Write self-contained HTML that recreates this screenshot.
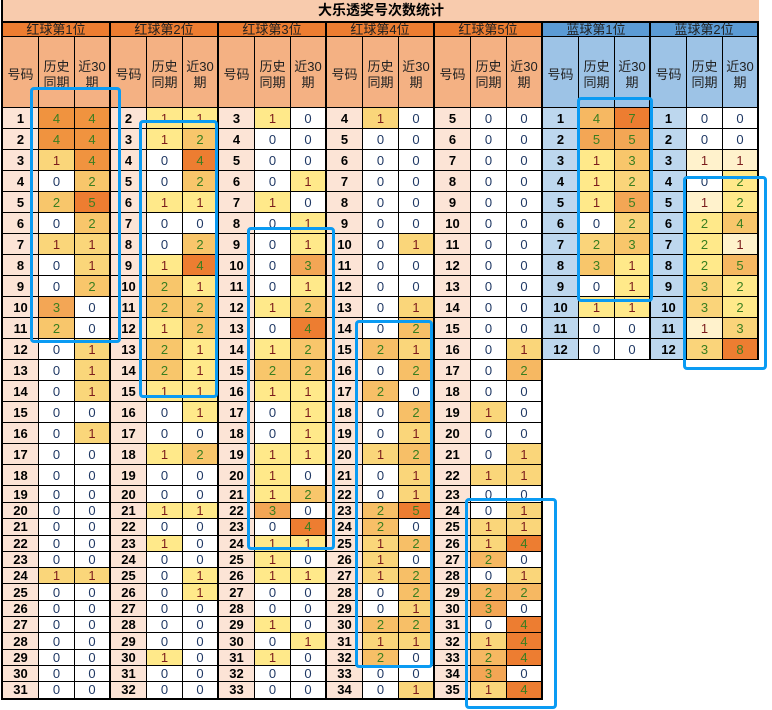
<!DOCTYPE html>
<html><head><meta charset="utf-8"><style>
*{margin:0;padding:0}
body{width:772px;height:710px;background:#fff;position:relative;overflow:hidden;font-family:"Liberation Sans","Noto Sans CJK SC",sans-serif}
#t{position:absolute;left:1px;top:0;border-left:2px solid #000;width:756px}
.ti{height:21px;border-bottom:2px solid #000;background:#F8CBAD;font-weight:bold;font-size:14px;line-height:21px;text-align:center;color:#000;width:756px}
.h1{display:flex;height:14px}
.h1>div{box-sizing:border-box;flex:none;width:108px;border-right:2px solid #000;border-bottom:1px solid #000;background:#ED7D31;font-size:13px;line-height:13px;text-align:center;color:#222}
.h1>.bl{background:#5B9BD5}
.h2{display:flex;height:71px}
.h2>div{box-sizing:border-box;flex:none;width:36px;border-right:1px solid #000;border-bottom:1px solid #000;background:#F4B183;font-size:13px;line-height:16px;text-align:center;display:flex;align-items:center;justify-content:center;padding-top:5px;color:#222}
.h2>:nth-child(3n){border-right-width:2px}
.h2>:nth-child(n+16){background:#9DC3E6}
.R{display:flex;height:21px}
.R.s{height:17px}
.R.u{height:16.3px}
.R.v{height:17.4px}
.R.v>*{border-bottom-width:2px}
.R>*{box-sizing:border-box;width:36px;flex:none;border-right:1px solid #000;border-bottom:1px solid #000;display:flex;align-items:center;justify-content:center;font-size:13px;font-style:normal;font-weight:normal;background:#fff;color:#1F3864}
.R>:nth-child(3n){border-right-width:2px}
.R>b{background:#FCE4D6;color:#000;font-weight:bold}
.R>b:nth-child(16),.R>b:nth-child(19){background:#BDD7EE}
.R>.q{background:#FFE98A;color:#7B1C1C}
.R>.t{background:#FAD67A;color:#7B1C1C}
.R>.p{background:#FFF2CC;color:#7B1C1C}
.R>.A{background:#FFE98A;color:#3A7E1F}
.R>.B{background:#FAD47A;color:#3A7E1F}
.R>.C{background:#F8C66B;color:#3A7E1F}
.R>.H{background:#F7BF67;color:#3A7E1F}
.R>.D{background:#F6B862;color:#3A7E1F}
.R>.E{background:#F3A655;color:#3A7E1F}
.R>.F{background:#F0933F;color:#3A7E1F}
.R>.G{background:#ED7D31;color:#3A7E1F}
.bx{position:absolute;box-sizing:border-box;border:3px solid #0A9BF3;border-radius:4px}
</style></head><body>
<div id="t">
<div class="ti">大乐透奖号次数统计</div>
<div class="h1"><div>红球第1位</div><div>红球第2位</div><div>红球第3位</div><div>红球第4位</div><div>红球第5位</div><div class="bl">蓝球第1位</div><div class="bl">蓝球第2位</div></div>
<div class="h2">
<div>号码</div><div>历史<br>同期</div><div>近30<br>期</div>
<div>号码</div><div>历史<br>同期</div><div>近30<br>期</div>
<div>号码</div><div>历史<br>同期</div><div>近30<br>期</div>
<div>号码</div><div>历史<br>同期</div><div>近30<br>期</div>
<div>号码</div><div>历史<br>同期</div><div>近30<br>期</div>
<div>号码</div><div>历史<br>同期</div><div>近30<br>期</div>
<div>号码</div><div>历史<br>同期</div><div>近30<br>期</div>
</div>
<div class="R"><b>1</b><i class="F">4</i><i class="F">4</i><b>2</b><i class="q">1</i><i class="q">1</i><b>3</b><i class="q">1</i><i>0</i><b>4</b><i class="t">1</i><i>0</i><b>5</b><i>0</i><i>0</i><b>1</b><i class="D">4</i><i class="G">7</i><b>1</b><i>0</i><i>0</i></div>
<div class="R"><b>2</b><i class="F">4</i><i class="F">4</i><b>3</b><i class="q">1</i><i class="C">2</i><b>4</b><i>0</i><i>0</i><b>5</b><i>0</i><i>0</i><b>6</b><i>0</i><i>0</i><b>2</b><i class="E">5</i><i class="E">5</i><b>2</b><i>0</i><i>0</i></div>
<div class="R"><b>3</b><i class="t">1</i><i class="F">4</i><b>4</b><i>0</i><i class="G">4</i><b>5</b><i>0</i><i>0</i><b>6</b><i>0</i><i>0</i><b>7</b><i>0</i><i>0</i><b>3</b><i class="q">1</i><i class="C">3</i><b>3</b><i class="p">1</i><i class="p">1</i></div>
<div class="R"><b>4</b><i>0</i><i class="C">2</i><b>5</b><i>0</i><i class="C">2</i><b>6</b><i>0</i><i class="q">1</i><b>7</b><i>0</i><i>0</i><b>8</b><i>0</i><i>0</i><b>4</b><i class="q">1</i><i class="B">2</i><b>4</b><i>0</i><i class="A">2</i></div>
<div class="R"><b>5</b><i class="C">2</i><i class="G">5</i><b>6</b><i class="q">1</i><i class="q">1</i><b>7</b><i class="q">1</i><i>0</i><b>8</b><i>0</i><i>0</i><b>9</b><i>0</i><i>0</i><b>5</b><i class="q">1</i><i class="E">5</i><b>5</b><i class="p">1</i><i class="A">2</i></div>
<div class="R"><b>6</b><i>0</i><i class="C">2</i><b>7</b><i>0</i><i>0</i><b>8</b><i>0</i><i class="q">1</i><b>9</b><i>0</i><i>0</i><b>10</b><i>0</i><i>0</i><b>6</b><i>0</i><i class="B">2</i><b>6</b><i class="A">2</i><i class="C">4</i></div>
<div class="R"><b>7</b><i class="t">1</i><i class="t">1</i><b>8</b><i>0</i><i class="C">2</i><b>9</b><i>0</i><i class="q">1</i><b>10</b><i>0</i><i class="t">1</i><b>11</b><i>0</i><i>0</i><b>7</b><i class="B">2</i><i class="C">3</i><b>7</b><i class="A">2</i><i class="p">1</i></div>
<div class="R"><b>8</b><i>0</i><i class="t">1</i><b>9</b><i class="q">1</i><i class="G">4</i><b>10</b><i>0</i><i class="E">3</i><b>11</b><i>0</i><i>0</i><b>12</b><i>0</i><i>0</i><b>8</b><i class="C">3</i><i class="q">1</i><b>8</b><i class="A">2</i><i class="D">5</i></div>
<div class="R"><b>9</b><i>0</i><i class="C">2</i><b>10</b><i class="C">2</i><i class="q">1</i><b>11</b><i>0</i><i class="q">1</i><b>12</b><i>0</i><i>0</i><b>13</b><i>0</i><i>0</i><b>9</b><i>0</i><i class="q">1</i><b>9</b><i class="B">3</i><i class="A">2</i></div>
<div class="R"><b>10</b><i class="E">3</i><i>0</i><b>11</b><i class="C">2</i><i class="C">2</i><b>12</b><i class="q">1</i><i class="C">2</i><b>13</b><i>0</i><i class="t">1</i><b>14</b><i>0</i><i>0</i><b>10</b><i class="q">1</i><i class="q">1</i><b>10</b><i class="B">3</i><i class="A">2</i></div>
<div class="R"><b>11</b><i class="C">2</i><i>0</i><b>12</b><i class="q">1</i><i class="C">2</i><b>13</b><i>0</i><i class="G">4</i><b>14</b><i>0</i><i class="H">2</i><b>15</b><i>0</i><i>0</i><b>11</b><i>0</i><i>0</i><b>11</b><i class="p">1</i><i class="B">3</i></div>
<div class="R"><b>12</b><i>0</i><i class="t">1</i><b>13</b><i class="C">2</i><i class="q">1</i><b>14</b><i class="q">1</i><i class="C">2</i><b>15</b><i class="H">2</i><i class="t">1</i><b>16</b><i>0</i><i class="t">1</i><b>12</b><i>0</i><i>0</i><b>12</b><i class="B">3</i><i class="G">8</i></div>
<div class="R"><b>13</b><i>0</i><i class="t">1</i><b>14</b><i class="C">2</i><i class="q">1</i><b>15</b><i class="C">2</i><i class="C">2</i><b>16</b><i>0</i><i class="H">2</i><b>17</b><i>0</i><i class="D">2</i></div>
<div class="R"><b>14</b><i>0</i><i class="t">1</i><b>15</b><i class="q">1</i><i class="q">1</i><b>16</b><i class="q">1</i><i class="q">1</i><b>17</b><i class="H">2</i><i>0</i><b>18</b><i>0</i><i>0</i></div>
<div class="R"><b>15</b><i>0</i><i>0</i><b>16</b><i>0</i><i class="q">1</i><b>17</b><i>0</i><i class="q">1</i><b>18</b><i>0</i><i class="H">2</i><b>19</b><i class="t">1</i><i>0</i></div>
<div class="R"><b>16</b><i>0</i><i class="t">1</i><b>17</b><i>0</i><i>0</i><b>18</b><i>0</i><i class="q">1</i><b>19</b><i>0</i><i class="t">1</i><b>20</b><i>0</i><i>0</i></div>
<div class="R"><b>17</b><i>0</i><i>0</i><b>18</b><i class="q">1</i><i class="C">2</i><b>19</b><i class="q">1</i><i class="q">1</i><b>20</b><i class="t">1</i><i class="H">2</i><b>21</b><i>0</i><i class="t">1</i></div>
<div class="R"><b>18</b><i>0</i><i>0</i><b>19</b><i>0</i><i>0</i><b>20</b><i class="q">1</i><i>0</i><b>21</b><i>0</i><i class="t">1</i><b>22</b><i class="t">1</i><i class="t">1</i></div>
<div class="R s"><b>19</b><i>0</i><i>0</i><b>20</b><i>0</i><i>0</i><b>21</b><i class="q">1</i><i class="C">2</i><b>22</b><i>0</i><i class="t">1</i><b>23</b><i>0</i><i>0</i></div>
<div class="R u"><b>20</b><i>0</i><i>0</i><b>21</b><i class="q">1</i><i class="q">1</i><b>22</b><i class="E">3</i><i>0</i><b>23</b><i class="H">2</i><i class="G">5</i><b>24</b><i>0</i><i class="t">1</i></div>
<div class="R u"><b>21</b><i>0</i><i>0</i><b>22</b><i>0</i><i>0</i><b>23</b><i>0</i><i class="G">4</i><b>24</b><i class="H">2</i><i>0</i><b>25</b><i class="t">1</i><i class="t">1</i></div>
<div class="R u"><b>22</b><i>0</i><i>0</i><b>23</b><i class="q">1</i><i>0</i><b>24</b><i class="q">1</i><i class="q">1</i><b>25</b><i class="t">1</i><i class="H">2</i><b>26</b><i class="t">1</i><i class="G">4</i></div>
<div class="R u"><b>23</b><i>0</i><i>0</i><b>24</b><i>0</i><i>0</i><b>25</b><i class="q">1</i><i>0</i><b>26</b><i class="t">1</i><i>0</i><b>27</b><i class="D">2</i><i>0</i></div>
<div class="R u"><b>24</b><i class="t">1</i><i class="t">1</i><b>25</b><i>0</i><i class="q">1</i><b>26</b><i class="q">1</i><i class="q">1</i><b>27</b><i class="t">1</i><i class="H">2</i><b>28</b><i>0</i><i class="t">1</i></div>
<div class="R u"><b>25</b><i>0</i><i>0</i><b>26</b><i>0</i><i class="q">1</i><b>27</b><i>0</i><i>0</i><b>28</b><i>0</i><i class="H">2</i><b>29</b><i class="D">2</i><i class="D">2</i></div>
<div class="R u"><b>26</b><i>0</i><i>0</i><b>27</b><i>0</i><i>0</i><b>28</b><i>0</i><i>0</i><b>29</b><i>0</i><i class="t">1</i><b>30</b><i class="E">3</i><i>0</i></div>
<div class="R u"><b>27</b><i>0</i><i>0</i><b>28</b><i>0</i><i>0</i><b>29</b><i class="q">1</i><i>0</i><b>30</b><i class="H">2</i><i class="H">2</i><b>31</b><i>0</i><i class="G">4</i></div>
<div class="R u"><b>28</b><i>0</i><i>0</i><b>29</b><i>0</i><i>0</i><b>30</b><i>0</i><i class="q">1</i><b>31</b><i class="t">1</i><i class="t">1</i><b>32</b><i class="t">1</i><i class="G">4</i></div>
<div class="R u"><b>29</b><i>0</i><i>0</i><b>30</b><i class="q">1</i><i>0</i><b>31</b><i class="q">1</i><i>0</i><b>32</b><i class="H">2</i><i>0</i><b>33</b><i class="D">2</i><i class="G">4</i></div>
<div class="R u"><b>30</b><i>0</i><i>0</i><b>31</b><i>0</i><i>0</i><b>32</b><i>0</i><i>0</i><b>33</b><i>0</i><i>0</i><b>34</b><i class="E">3</i><i>0</i></div>
<div class="R v"><b>31</b><i>0</i><i>0</i><b>32</b><i>0</i><i>0</i><b>33</b><i>0</i><i>0</i><b>34</b><i>0</i><i class="t">1</i><b>35</b><i class="t">1</i><i class="G">4</i></div>
</div>
<div class="bx" style="left:30px;top:87px;width:91px;height:256px"></div>
<div class="bx" style="left:139px;top:120px;width:79px;height:278px"></div>
<div class="bx" style="left:247px;top:227px;width:88px;height:323px"></div>
<div class="bx" style="left:355px;top:320px;width:78px;height:348px"></div>
<div class="bx" style="left:465px;top:498px;width:92px;height:211px"></div>
<div class="bx" style="left:577px;top:97px;width:76px;height:205px"></div>
<div class="bx" style="left:683px;top:176px;width:84px;height:194px"></div>
</body></html>
